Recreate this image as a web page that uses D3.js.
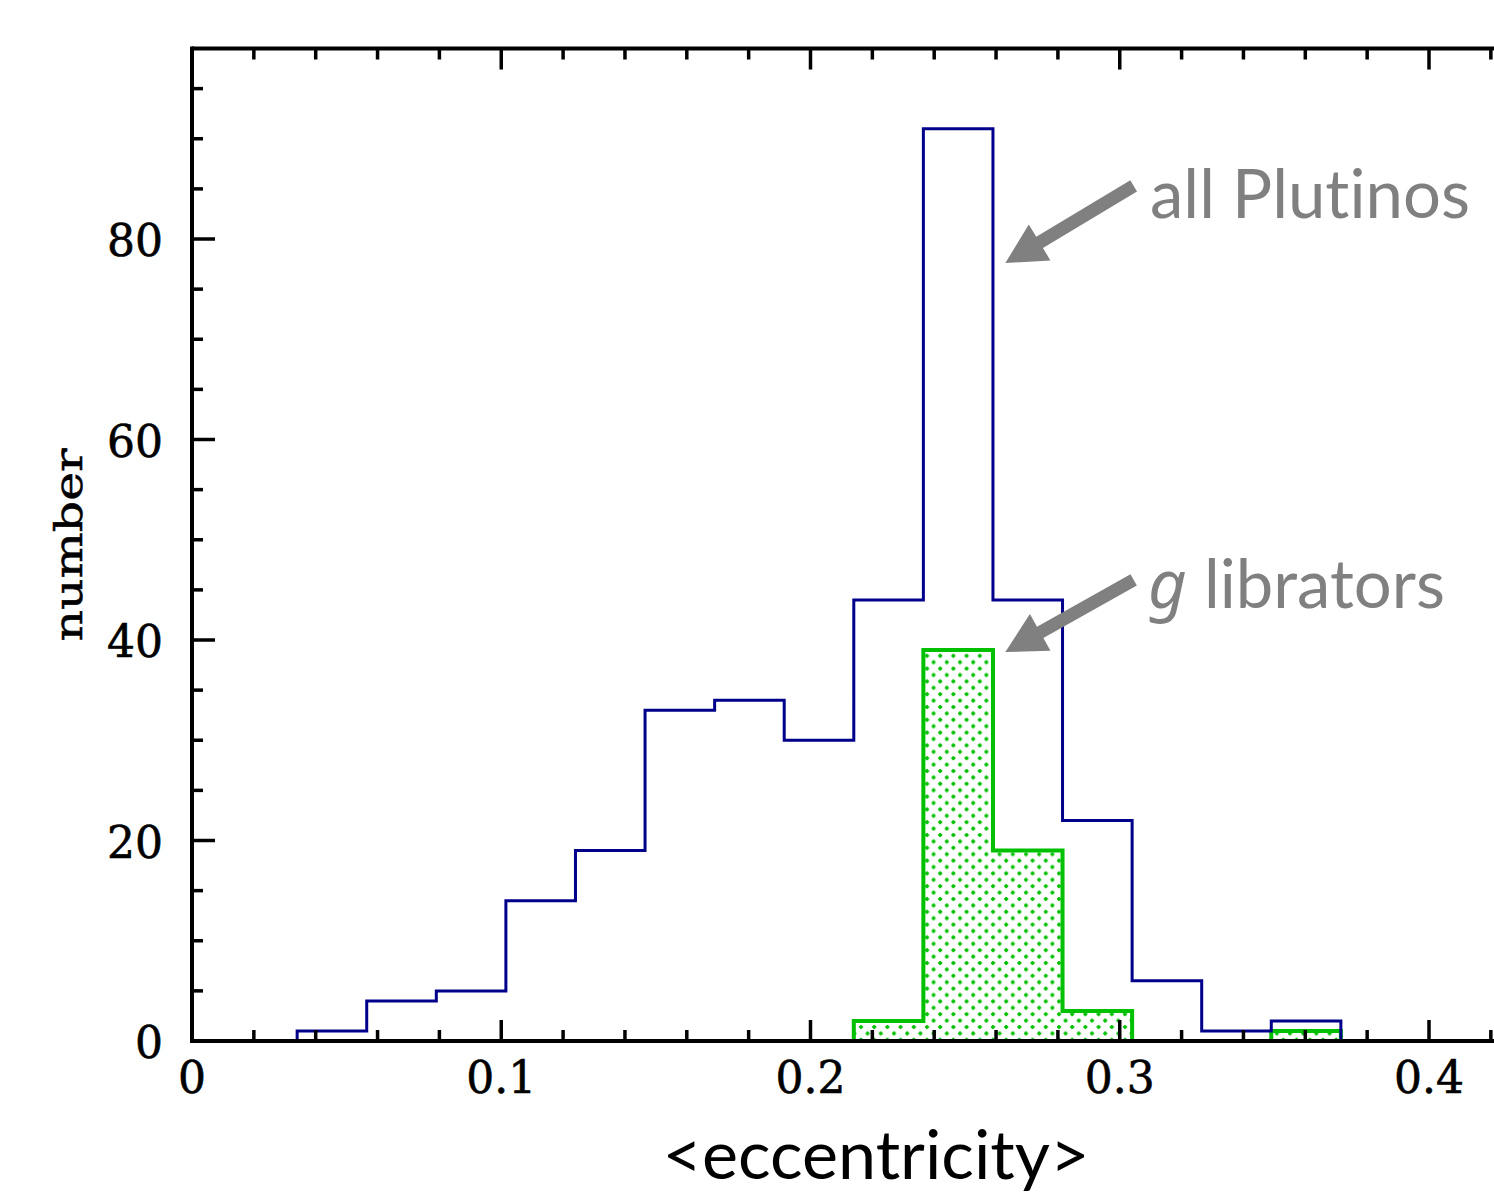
<!DOCTYPE html>
<html>
<head>
<meta charset="utf-8">
<script src="https://cdn.jsdelivr.net/npm/d3@7"></script>
<style>
  html, body { margin: 0; padding: 0; background: #fff; }
  svg { display: block; }
  text { font-variant-ligatures: none; font-feature-settings: "liga" 0; }
</style>
</head>
<body>
<svg id="chart" width="1494" height="1194"></svg>
<script>
// Histogram of mean eccentricity: bins of width 0.0225 starting at 0.034
const binStart = 0.034;
const binWidth = 0.0225;
const allPlutinos = [1, 4, 5, 14, 19, 33, 34, 30, 44, 91, 44, 22, 6, 1, 2];
const gLibrators  = [0, 0, 0, 0, 0, 0, 0, 0, 2, 39, 19, 3, 0, 0, 1];
const xTickLabels = ["0", "0.1", "0.2", "0.3", "0.4"];
const yTickLabels = ["0", "20", "40", "60", "80"];
const annotations = [
  { text: "all Plutinos", italicPrefix: "", tip: [0.263, 77.6], tail: [0.3045, 85.3] },
  { text: " librators", italicPrefix: "g", tip: [0.263, 38.8], tail: [0.3045, 46.0] }
];

const svg = d3.select("#chart");
const W = 1494, H = 1194;

const x = d3.scaleLinear().domain([0, 0.4]).range([192, 1429]);
const y = d3.scaleLinear().domain([0, 80]).range([1041, 239]);
const yMax = 99;

const blue = "#00008b";
const green = "#00c000";
const grey = "#808080";

// dotted fill for the libration histogram
const defs = svg.append("defs");
const pat = defs.append("pattern")
  .attr("id", "dots").attr("patternUnits", "userSpaceOnUse")
  .attr("width", 13.2).attr("height", 12.8);
pat.append("rect").attr("width", 13.2).attr("height", 12.8).attr("fill", "#fff");
function plus(g, cx, cy) {
  g.append("rect").attr("x", cx - 2).attr("y", cy - 1).attr("width", 4).attr("height", 2).attr("fill", green);
  g.append("rect").attr("x", cx - 1).attr("y", cy - 2).attr("width", 2).attr("height", 4).attr("fill", green);
}
plus(pat, 3, 3);
plus(pat, 9.6, 9.4);

// closed step outlines, one per run of non-empty bins
function histPath(counts) {
  const segs = [];
  let run = null;
  counts.forEach((c, i) => {
    if (c > 0) { if (!run) { run = []; segs.push(run); } run.push(i); }
    else run = null;
  });
  return segs.map(idx => {
    const pts = [];
    pts.push([binStart + idx[0] * binWidth, 0]);
    idx.forEach(i => {
      const a = binStart + i * binWidth, b = a + binWidth;
      pts.push([a, counts[i]], [b, counts[i]]);
    });
    pts.push([binStart + (idx[idx.length - 1] + 1) * binWidth, 0]);
    return pts;
  });
}

const line = d3.line().x(d => x(d[0])).y(d => y(d[1]));

// libration histogram (filled)
histPath(gLibrators).forEach(pts => {
  svg.append("path").attr("d", line(pts) + "Z")
    .attr("fill", "url(#dots)").attr("stroke", green).attr("stroke-width", 4)
    .attr("stroke-linejoin", "miter");
});

// all Plutinos histogram (outline)
histPath(allPlutinos).forEach(pts => {
  svg.append("path").attr("d", line(pts))
    .attr("fill", "none").attr("stroke", blue).attr("stroke-width", 3)
    .attr("stroke-linejoin", "miter");
});

// frame and ticks
const axisW = 4;
const frame = svg.append("g").attr("stroke", "#000").attr("stroke-width", axisW);
frame.append("line").attr("x1", x(0)).attr("x2", W + 5).attr("y1", y(0)).attr("y2", y(0));
frame.append("line").attr("x1", x(0)).attr("x2", W + 5).attr("y1", y(yMax)).attr("y2", y(yMax));
frame.append("line").attr("x1", x(0)).attr("x2", x(0)).attr("y1", y(0) + axisW / 2).attr("y2", y(yMax) - axisW / 2);

const xTicks = d3.range(0, 0.4301, 0.02);
xTicks.forEach((t, i) => {
  if (i === 0) return;
  const len = i % 5 === 0 ? 21 : 11;
  frame.append("line").attr("x1", x(t)).attr("x2", x(t)).attr("y1", y(0)).attr("y2", y(0) - len).attr("stroke-width", 3.5);
  frame.append("line").attr("x1", x(t)).attr("x2", x(t)).attr("y1", y(yMax)).attr("y2", y(yMax) + len).attr("stroke-width", 3.5);
});
d3.range(5, 100, 5).forEach(t => {
  const len = t % 20 === 0 ? 23 : 11;
  frame.append("line").attr("x1", x(0)).attr("x2", x(0) + len).attr("y1", y(t)).attr("y2", y(t)).attr("stroke-width", 3.5);
});

// tick labels
const tickFont = "'DejaVu Serif', serif";
svg.append("g").selectAll("text").data(xTickLabels).join("text")
  .attr("x", d => x(+d)).attr("y", 1093)
  .attr("text-anchor", "middle")
  .attr("font-family", tickFont).attr("font-size", 44)
  .attr("stroke", "#000").attr("stroke-width", 0.6).attr("fill", "#000")
  .text(d => d);
svg.append("g").selectAll("text").data(yTickLabels).join("text")
  .attr("x", 163).attr("y", d => y(+d) + 17)
  .attr("text-anchor", "end")
  .attr("font-family", tickFont).attr("font-size", 44)
  .attr("stroke", "#000").attr("stroke-width", 0.6).attr("fill", "#000")
  .text(d => d);

// axis titles
svg.append("text")
  .attr("transform", `translate(82,545) rotate(-90)`)
  .attr("text-anchor", "middle")
  .attr("font-family", tickFont).attr("font-size", 40)
  .attr("stroke", "#000").attr("stroke-width", 0.5)
  .attr("textLength", 193).attr("lengthAdjust", "spacingAndGlyphs")
  .text("number");

function fitText(sel, target) {
  const w = sel.node().getComputedTextLength();
  const fs = parseFloat(sel.attr("font-size"));
  sel.attr("font-size", fs * target / w);
}

const sansFont = "Lato, 'Open Sans', sans-serif";
const xTitle = svg.append("text")
  .attr("x", 876).attr("y", 1179)
  .attr("text-anchor", "middle")
  .attr("font-family", sansFont).attr("font-size", 58).attr("fill", "#000")
  .text("<eccentricity>");
fitText(xTitle, 427);

// annotations with arrows
function arrow(tail, tip) {
  const [x0, y0] = [x(tail[0]), y(tail[1])];
  const [x1, y1] = [x(tip[0]), y(tip[1])];
  const dx = x1 - x0, dy = y1 - y0, L = Math.hypot(dx, dy);
  const ux = dx / L, uy = dy / L, nx = -uy, ny = ux;
  const headL = 40, headW = 21, shaftW = 6.5;
  const bx = x1 - ux * headL, by = y1 - uy * headL;
  const pts = [
    [x0 + nx * shaftW, y0 + ny * shaftW],
    [bx + nx * shaftW, by + ny * shaftW],
    [bx + nx * headW, by + ny * headW],
    [x1, y1],
    [bx - nx * headW, by - ny * headW],
    [bx - nx * shaftW, by - ny * shaftW],
    [x0 - nx * shaftW, y0 - ny * shaftW]
  ];
  svg.append("polygon").attr("points", pts.map(p => p.join(",")).join(" ")).attr("fill", grey);
}

const labelPos = [[1150, 218, 320], [1148, 608, 297]];
annotations.forEach((a, i) => {
  arrow(a.tail, a.tip);
  const t = svg.append("text")
    .attr("x", labelPos[i][0]).attr("y", labelPos[i][1])
    .attr("font-family", sansFont).attr("font-size", 60).attr("fill", grey);
  if (a.italicPrefix) {
    t.append("tspan").attr("font-style", "italic")
      .attr("font-family", "'Noto Sans', Roboto, sans-serif").text(a.italicPrefix);
  }
  t.append("tspan").text(a.text);
  fitText(t, labelPos[i][2]);
});
</script>
</body>
</html>
